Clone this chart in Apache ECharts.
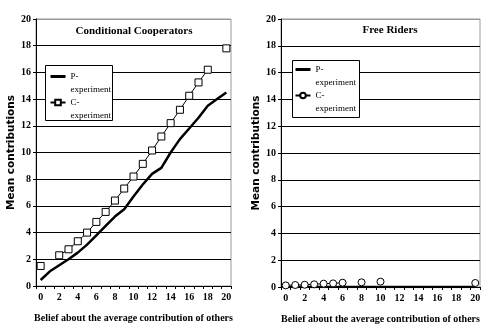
<!DOCTYPE html>
<html><head><meta charset="utf-8">
<script src="https://cdn.jsdelivr.net/npm/echarts@6/dist/echarts.min.js"></script>
<style>html,body{margin:0;padding:0;background:#fff}#c{width:495px;height:335px}</style>
</head><body><div id="c"></div>
<script>
const categories = ['0','1','2','3','4','5','6','7','8','9','10','11','12','13','14','15','16','17','18','19','20'];
const yTicks = [0,2,4,6,8,10,12,14,16,18,20];
const ccP = [0.45,1.1,1.55,2.0,2.5,3.1,3.8,4.5,5.2,5.75,6.7,7.6,8.4,8.85,10.0,11.0,11.8,12.6,13.5,14.0,14.5];
const ccC = [1.5,null,2.3,2.75,3.35,4.0,4.8,5.55,6.4,7.3,8.2,9.15,10.15,11.2,12.2,13.2,14.25,15.25,16.2,null,17.8];
const frP = [0,0,0,0,0,0,0,0,0,0,0,0,0,0,0,0,0,0,0,0,0];
const frC = [0.12,0.15,0.17,0.2,0.25,0.27,0.32,null,0.35,null,0.4,null,null,null,null,null,null,null,null,null,0.3];
const titles = ['Conditional Cooperators','Free Riders'];
const xName = 'Belief about the average contribution of others';
const yName = 'Mean contributions';

const serif = 'Liberation Serif';
const splitColors = ['#000','#000','#000','#000','#000','#000','#000','#000','#000','#000','#999'];

function xAx(i){return {type:'category',gridIndex:i,data:categories,boundaryGap:true,
  axisLine:{lineStyle:{color:'#000',width:1}},
  axisTick:{show:true,interval:0,alignWithLabel:false,length:3,lineStyle:{color:'#000'}},
  axisLabel:{interval:1,color:'#000',fontFamily:serif,fontWeight:'bold',fontSize:10,margin:6},
  name:xName,nameLocation:'middle',nameGap:27,
  nameTextStyle:{color:'#000',fontFamily:serif,fontWeight:'bold',fontSize:10}};}
function yAx(i){return {type:'value',gridIndex:i,min:yTicks[0],max:yTicks[yTicks.length-1],interval:yTicks[1]-yTicks[0],
  axisLine:{show:true,lineStyle:{color:'#000',width:1}},
  axisTick:{show:true,length:3,lineStyle:{color:'#000'}},
  axisLabel:{color:'#000',fontFamily:serif,fontWeight:'bold',fontSize:10,margin:5},
  splitLine:{show:true,lineStyle:{color:splitColors,width:1}},
  name:yName,nameLocation:'middle',nameGap:18,
  nameTextStyle:{color:'#000',fontFamily:'DejaVu Sans',fontWeight:'bold',fontSize:10.5}};}

const fmt = n => n.charAt(0)==='P' ? ' \nP-\nexperiment' : ' \nC-\nexperiment';
const legText = {color:'#000',fontFamily:serif,fontSize:9,lineHeight:13};
function legData(p,c){return [{name:p,itemStyle:{opacity:0},lineStyle:{width:3,color:'#000'}},{name:c}];}

const option = {
  animation:false,
  backgroundColor:'#fff',
  title:[
    {text:titles[0],left:134,top:26,textAlign:'center',padding:0,textStyle:{fontFamily:serif,fontWeight:'bold',fontSize:11,color:'#000'}},
    {text:titles[1],left:390,top:25,textAlign:'center',padding:0,textStyle:{fontFamily:serif,fontWeight:'bold',fontSize:11,color:'#000'}}
  ],
  grid:[
    {left:36,right:264,top:19,bottom:49,show:true,borderColor:'#999',borderWidth:1},
    {left:281,right:15,top:19,bottom:48,show:true,borderColor:'#999',borderWidth:1}
  ],
  xAxis:[xAx(0),xAx(1)],
  yAxis:[yAx(0),yAx(1)],
  graphic:{elements:[
    {type:'rect',z:3,shape:{x:45.5,y:65.5,width:67,height:55},style:{fill:'#fff',stroke:'#000',lineWidth:1}},
    {type:'rect',z:3,shape:{x:292.5,y:60.5,width:67,height:57},style:{fill:'#fff',stroke:'#000',lineWidth:1}}
  ]},
  legend:[
    {data:legData('P-experiment','C-experiment'),orient:'vertical',left:49,top:57,padding:0,itemGap:-13,itemWidth:15,itemHeight:7,
     formatter:fmt,textStyle:legText,z:5,selectedMode:false},
    {data:legData('P-experiment FR','C-experiment FR'),orient:'vertical',left:294,top:50,padding:0,itemGap:-13,itemWidth:15,itemHeight:7,
     formatter:fmt,textStyle:legText,z:5,selectedMode:false}
  ],
  series:[
    {name:'P-experiment',type:'line',xAxisIndex:0,yAxisIndex:0,data:ccP,symbol:'none',
     lineStyle:{color:'#000',width:2.5},itemStyle:{color:'#000'},z:2},
    {name:'C-experiment',type:'line',xAxisIndex:0,yAxisIndex:0,data:ccC,symbol:'rect',symbolSize:7,showAllSymbol:true,connectNulls:false,
     lineStyle:{color:'#000',width:1},itemStyle:{color:'#fff',borderColor:'#000',borderWidth:1},z:3},
    {name:'P-experiment FR',type:'line',xAxisIndex:1,yAxisIndex:1,data:frP,symbol:'none',
     lineStyle:{color:'#000',width:2.5},itemStyle:{color:'#000'},z:2},
    {name:'C-experiment FR',type:'line',xAxisIndex:1,yAxisIndex:1,data:frC,symbol:'circle',symbolSize:7,showAllSymbol:true,connectNulls:false,
     lineStyle:{color:'#000',width:1},itemStyle:{color:'#fff',borderColor:'#000',borderWidth:1},z:3}
  ]
};
const chart = echarts.init(document.getElementById('c'),null,{renderer:'canvas'});
chart.setOption(option);
</script></body></html>
